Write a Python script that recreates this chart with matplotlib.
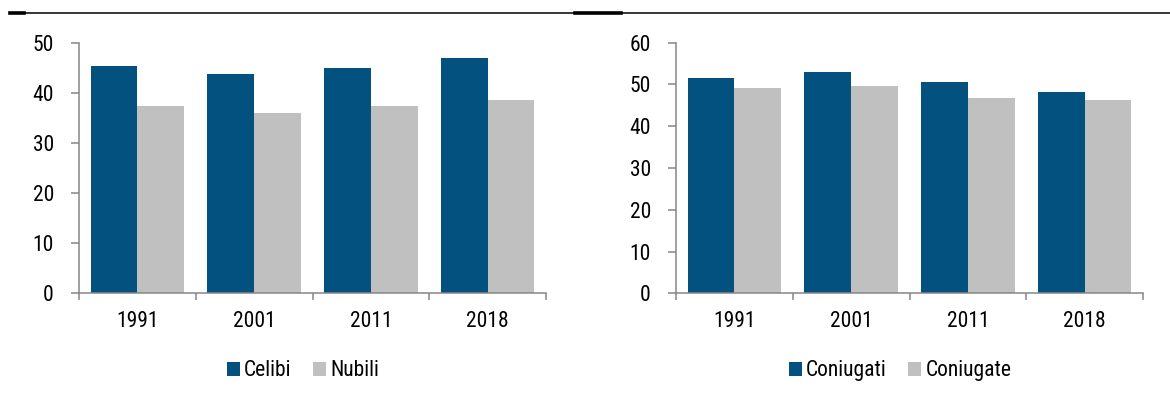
import numpy as np
import matplotlib
matplotlib.use('Agg')
import matplotlib.pyplot as plt
from matplotlib.lines import Line2D
from matplotlib.patches import Patch

plt.rcParams['font.family'] = ['Roboto Condensed', 'Archivo Narrow', 'Liberation Sans', 'DejaVu Sans']

anni = ['1991', '2001', '2011', '2018']
celibi = [45.4, 43.8, 45.0, 46.9]
nubili = [37.4, 35.9, 37.4, 38.6]
coniugati = [51.5, 53.0, 50.6, 48.2]
coniugate = [49.2, 49.6, 46.8, 46.3]

blu = '#03517e'
grigio = '#c0c0c0'
assi = '#868686'
fs = 15.5

fig = plt.figure(figsize=(11.7, 4.15), dpi=100)
ax1 = fig.add_axes([79 / 1170, 1 - 293.3 / 415, 467 / 1170, 250.6 / 415])
ax2 = fig.add_axes([676 / 1170, 1 - 293.3 / 415, 467 / 1170, 250.6 / 415])


def disegna(ax, s1, s2, nomi, ymax, step):
    x = np.arange(len(anni))
    w = 0.4
    ax.bar(x - w / 2, s1, w, color=blu, edgecolor='none')
    ax.bar(x + w / 2, s2, w, color=grigio, edgecolor='none')
    ax.set_xlim(-0.5, len(anni) - 0.5)
    ax.set_ylim(0, ymax)
    ax.set_yticks(np.arange(0, ymax + 1, step))
    # ticks at the category boundaries, labels at the centres
    ax.set_xticks(np.arange(len(anni) + 1) - 0.5)
    ax.set_xticklabels([])
    ax.set_xticks(x, minor=True)
    ax.set_xticklabels(anni, minor=True)
    ax.tick_params(axis='x', which='major', direction='out', length=5, width=1.1, color=assi)
    ax.tick_params(axis='x', which='minor', length=0, pad=13, labelsize=fs)
    ax.tick_params(axis='y', direction='out', length=6, width=1.1, color=assi, pad=12, labelsize=fs)
    for s in ['top', 'right']:
        ax.spines[s].set_visible(False)
    for s in ['left', 'bottom']:
        ax.spines[s].set_color(assi)
        ax.spines[s].set_linewidth(1.1)
    maniglie = [Patch(facecolor=blu), Patch(facecolor=grigio)]
    ax.legend(maniglie, nomi, loc='upper center', bbox_to_anchor=(0.48, -0.19), ncol=2,
              frameon=False, fontsize=fs, handlelength=0.6, handleheight=0.6,
              handletextpad=0.2, columnspacing=1.0)


disegna(ax1, celibi, nubili, ['Celibi', 'Nubili'], 50, 10)
disegna(ax2, coniugati, coniugate, ['Coniugati', 'Coniugate'], 60, 10)

# linea in alto
yl = 1 - 13.3 / 415
fig.add_artist(Line2D([10 / 1170, 1], [yl, yl], color='black', lw=1.1, transform=fig.transFigure))
fig.add_artist(Line2D([10 / 1170, 24 / 1170], [yl, yl], color='black', lw=2.6, transform=fig.transFigure))
fig.add_artist(Line2D([575 / 1170, 621 / 1170], [yl, yl], color='black', lw=2.6, transform=fig.transFigure))

plt.savefig('out.png', dpi=100)
